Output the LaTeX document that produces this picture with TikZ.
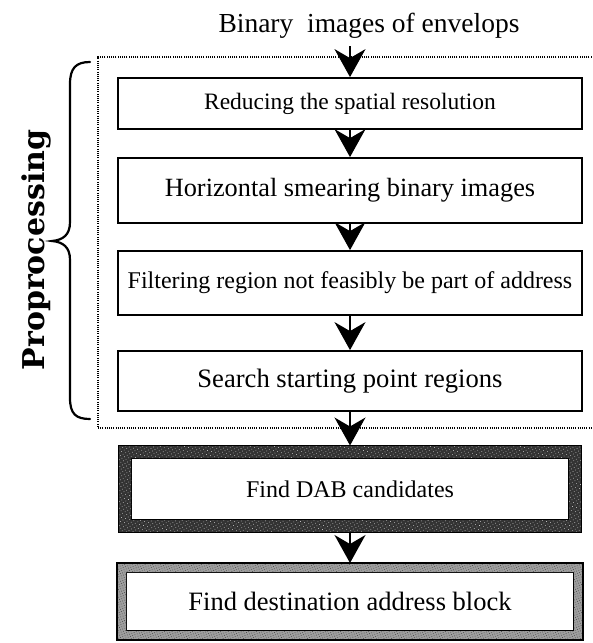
\documentclass[tikz,border=0pt]{standalone}
\usepackage{fontspec}
\setmainfont{Liberation Serif}
\newfontfamily\slabbold{DejaVu Serif}
\usetikzlibrary{arrows.meta,patterns.meta}

\begin{document}
\begin{tikzpicture}[x=1pt, y=-1pt,
  stepbox/.style={draw, line width=1.8pt, minimum width=464pt, inner sep=0pt},
  innerbox/.style={draw, line width=1.5pt, inner sep=0pt, fill=white},
  flow/.style={-{Stealth[length=28pt, width=31pt, inset=9pt]}, line width=1.6pt},
  group/.style={line width=1.1pt, dash pattern=on 1pt off 1.2pt},
]
\useasboundingbox (0,0) rectangle (593,643);

% title
\node[anchor=base, font=\fontsize{27.5}{30}\selectfont] (title) at (369,32)
  {Binary\ \ images of envelops};
\coordinate (src) at (350,46);

% preprocessing group (open on the right)
\draw[group] (596,57) -| (98,428) -- (596,428);

% preprocessing steps
\node[stepbox, minimum height=51pt, font=\fontsize{23.5}{28}\selectfont] (b1) at (350,103.5)
  {Reducing the spatial resolution};
\node[stepbox, minimum height=65pt, font=\fontsize{26.3}{30}\selectfont] (b2) at (350,190.5)
  {Horizontal smearing binary images};
\node[stepbox, minimum height=64pt, font=\fontsize{24}{28}\selectfont] (b3) at (350,283)
  {\raisebox{4pt}{Filtering region not feasibly be part of address}};
\node[stepbox, minimum height=60pt, font=\fontsize{26.6}{30}\selectfont] (b4) at (350,381)
  {Search starting point regions};

% framed result boxes: the node is the inner white panel, its outer sep is the frame
\node[innerbox, outer sep=12.5pt, minimum width=438pt, minimum height=62pt,
      font=\fontsize{24}{28}\selectfont] (b5) at (350,489) {Find DAB candidates};
\node[innerbox, outer sep=9pt, minimum width=448pt, minimum height=59pt,
      font=\fontsize{26.5}{30}\selectfont] (b6) at (350,601.5) {Find destination address block};

% dark speckled frame of b5
\fill[black!80, even odd rule]
  (b5.north west) rectangle (b5.south east)
  ([shift={(12.5,12.5)}]b5.north west) rectangle ([shift={(-12.5,-12.5)}]b5.south east);
\fill[pattern={Dots[distance=3pt, radius=0.45pt, angle=30]}, pattern color=white!80!black, even odd rule]
  (b5.north west) rectangle (b5.south east)
  ([shift={(12.5,12.5)}]b5.north west) rectangle ([shift={(-12.5,-12.5)}]b5.south east);
\draw[line width=1.5pt] (b5.north west) rectangle (b5.south east);
% light speckled frame of b6
\fill[black!38, even odd rule]
  (b6.north west) rectangle (b6.south east)
  ([shift={(9,9)}]b6.north west) rectangle ([shift={(-9,-9)}]b6.south east);
\fill[pattern={Dots[distance=2.4pt, radius=0.45pt, angle=20]}, pattern color=black!75, even odd rule]
  (b6.north west) rectangle (b6.south east)
  ([shift={(9,9)}]b6.north west) rectangle ([shift={(-9,-9)}]b6.south east);
\draw[line width=1.5pt] (b6.north west) rectangle (b6.south east);

% connectors
\draw[flow] (src) -- (b1);
\draw[flow] (b1) -- (b2);
\draw[flow] (b2) -- (b3);
\draw[flow] (b3) -- (b4);
\draw[flow] (b4) -- (b5);
\draw[flow] (b5) -- (b6);

% brace and its label
\draw[line width=2.2pt, line cap=round]
  (90,62) .. controls (76,62) and (70,68) .. (70,84) -- (70,222)
  .. controls (70,235) and (63,240) .. (52,241)
  .. controls (63,242) and (70,247) .. (70,260) -- (70,398)
  .. controls (70,414) and (76,419) .. (90,419);
\node[rotate=90, font=\slabbold\bfseries\fontsize{30}{34}\selectfont] (lbl) at (36,250)
  {Proprocessing};
\end{tikzpicture}
\end{document}
